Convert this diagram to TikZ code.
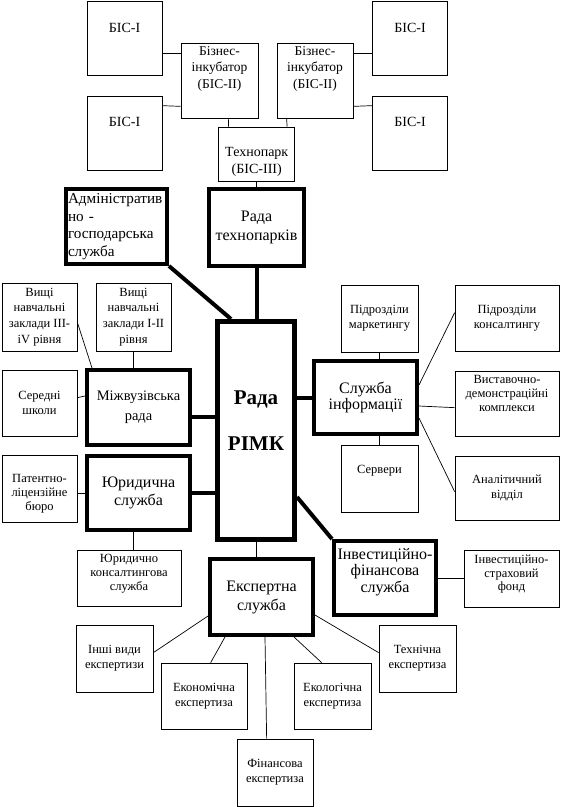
\documentclass[tikz,border=0pt]{standalone}
\usepackage{fontspec}
\setmainfont{Liberation Serif}
\usepackage{tikz}
\usetikzlibrary{calc}

\begin{document}
\begin{tikzpicture}[x=1pt, y=-1pt,
    thinbox/.style={draw, line width=0.7pt, inner sep=1pt, align=center,
      font=\fontsize{12.5}{15}\selectfont},
    thickbox/.style={draw, line width=4pt, inner sep=1pt, align=center,
      font=\fontsize{15.5}{18.5}\selectfont},
    dims/.style args={#1x#2}{minimum width=#1pt, minimum height=#2pt},
    lift/.style={text depth=#1pt},
    drop/.style={text height=#1pt},
    link/.style={line width=0.7pt},
    bond/.style={line width=4pt}]

  \useasboundingbox (0,0) rectangle (580,807);

  % Business incubation system
  \foreach \n/\x/\y in {bis1/124.5/38.5, bis2/124.5/133, bis3/410/38.5, bis4/410/133}
    \node[thinbox, dims=75x74, lift=22, font=\fontsize{14}{16}\selectfont] (\n) at (\x,\y) {БІС-І};
  \node[thinbox, dims=77x75, lift=26, font=\fontsize{13.5}{16.5}\selectfont] (inc1) at (219.5,80.5) {Бізнес-\\інкубатор\\(БІС-ІІ)};
  \node[thinbox, dims=76x75, lift=26, font=\fontsize{13.5}{16.5}\selectfont] (inc2) at (315,80.5) {Бізнес-\\інкубатор\\(БІС-ІІ)};
  \node[thinbox, dims=76x54, drop=42, font=\fontsize{14}{17}\selectfont] (tech) at (256.75,154) {Технопарк\\(БІС-ІІІ)};

  % Main bodies
  \node[thickbox, dims=95x77, font=\fontsize{16}{18.5}\selectfont] (radatech) at (256.5,227.5) {Рада\\технопарків};
  \node[thickbox, dims=101x75, align=left, text width=97pt, font=\fontsize{15.2}{17.7}\selectfont] (admin) at (116.5,226.5) {Адміністратив\\но -\\господарська\\служба};
  \node[thickbox, line width=5pt, dims=77x218, lift=20, font=\fontsize{21}{46}\selectfont\bfseries] (rimk) at (256,430.5) {Рада\\РІМК};
  \node[thickbox, dims=103x75, font=\fontsize{14.5}{20}\selectfont] (mizh) at (138.5,407.5) {Міжвузівська\\рада};
  \node[thickbox, dims=103x74, font=\fontsize{16}{18.5}\selectfont] (yur) at (138.5,493) {Юридична\\служба};
  \node[thickbox, dims=103x73, font=\fontsize{16}{16.5}\selectfont] (info) at (365.5,397.5) {Служба\\інформації};
  \node[thickbox, dims=103x76, font=\fontsize{16}{19}\selectfont] (eksp) at (261.5,597) {Експертна\\служба};
  \node[thickbox, dims=102x74, lift=15, font=\fontsize{16}{16.5}\selectfont] (invest) at (385,578) {Інвестиційно-\\фінансова\\служба};

  % Left side units
  \node[thinbox, dims=75x68, font=\fontsize{12.5}{15.7}\selectfont] (v1) at (39.5,317) {Вищі\\навчальні\\заклади ІІІ-\\iV рівня};
  \node[thinbox, dims=75x68, font=\fontsize{12.5}{15.7}\selectfont] (v2) at (133.5,317) {Вищі\\навчальні\\заклади І-ІІ\\рівня};
  \node[thinbox, dims=75x66] (shkoly) at (39.5,403) {Середні\\школи};
  \node[thinbox, dims=75x67, drop=46, font=\fontsize{12.5}{14}\selectfont] (patent) at (39.5,488.5) {Патентно-\\ліцензійне\\бюро};
  \node[thinbox, dims=104x56, lift=11, font=\fontsize{12.5}{14}\selectfont] (yurkons) at (129,578) {Юридично\\консалтингова\\служба};

  % Right side units
  \node[thinbox, dims=77x67] (market) at (379.5,318.5) {Підрозділи\\маркетингу};
  \node[thinbox, dims=77x67, lift=19] (serv) at (379.5,478.5) {Сервери};
  \node[thinbox, dims=104x66] (konsalt) at (507,318) {Підрозділи\\консалтингу};
  \node[thinbox, dims=104x65, lift=21, font=\fontsize{12.5}{14}\selectfont] (vystav) at (507,403.5) {Виставочно-\\демонстраційні\\комплекси};
  \node[thinbox, dims=104x64] (analit) at (507,488) {Аналітичний\\відділ};
  \node[thinbox, dims=95x57, lift=11, font=\fontsize{12.5}{13.5}\selectfont] (fond) at (511.5,578.5) {Інвестиційно-\\страховий\\фонд};

  % Expertise kinds
  \foreach \n/\x/\y/\w/\h/\t in {inshi/114.5/658.5/77/67/{Інші види\\експертизи},
      ekon/204/696/86/66/{Економічна\\експертиза}, fin/275/772.5/76/67/{Фінансова\\експертиза},
      ekol/332.5/696/77/66/{Екологічна\\експертиза}, tekh/417.5/658.5/77/67/{Технічна\\експертиза}}
    \node[thinbox, dims=\w x\h] (\n) at (\x,\y) {\t};

  % Thin links
  \draw[link] ($(inc1.north west)+(0,11)$) -- ($(bis1.north east)+(0,52.5)$);
  \draw[link] ($(inc1.south west)+(0,-12)$) -- ($(bis2.north east)+(0,10)$);
  \draw[link] ($(inc2.north east)+(0,11)$) -- ($(bis3.north west)+(0,52.5)$);
  \draw[link] ($(inc2.south east)+(0,-12)$) -- ($(bis4.north west)+(0,10)$);
  \draw[link] ($(inc1.south west)+(48,0)$) -- ($(tech.north west)+(10,0)$);
  \draw[link] ($(inc2.south west)+(10,0)$) -- ($(tech.north east)+(-8,0)$);
  \draw[link] (tech.south) -- (tech.south |- radatech.north);
  \draw[link] ($(v1.south east)+(0,-29)$) -- ($(mizh.north west)+(7,0)$);
  \draw[link] (v2.south) -- (v2.south |- mizh.north);
  \draw[link] ($(shkoly.north east)+(0,28)$) -- ($(mizh.north west)+(0,28)$);
  \draw[link] (yur.west) -- (patent.east |- yur.west);
  \draw[link] ($(yur.south)+(-5.5,0)$) -- ($(yurkons.north)+(4,0)$);
  \draw[link] (rimk.south) -- (rimk.south |- eksp.north);
  \draw[link] (invest.east) -- (fond.west |- invest.east);
  \draw[link] (market.south) -- (market.south |- info.north);
  \draw[link] (info.south -| serv.north) -- (serv.north);
  \draw[link] ($(info.north east)+(0,26)$) -- ($(konsalt.north west)+(0,28)$);
  \draw[link] ($(info.north east)+(0,47)$) -- ($(vystav.north west)+(0,37)$);
  \draw[link] ($(info.north east)+(0,59)$) -- ($(analit.north west)+(0,36)$);
  \draw[link] ($(eksp.north west)+(0,59)$) -- ($(inshi.north east)+(0,28)$);
  \draw[link] ($(eksp.south west)+(17,0)$) -- ($(ekon.north west)+(50,0)$);
  \draw[link] ($(eksp.south west)+(57,0)$) -- ($(fin.north west)+(30,0)$);
  \draw[link] ($(eksp.south west)+(86,0)$) -- ($(ekol.north west)+(28,0)$);
  \draw[link] ($(eksp.north east)+(0,58)$) -- ($(tekh.north west)+(0,28)$);

  % Thick bonds to the council
  \draw[bond] (radatech.south) -- (radatech.south |- rimk.north);
  \draw[bond] (admin.south east) -- ($(rimk.north west)+(16,0)$);
  \draw[bond] ($(mizh.east)+(0,9.5)$) -- ($(rimk.west |- mizh.east)+(0,9.5)$);
  \draw[bond] (yur.east) -- (rimk.west |- yur.east);
  \draw[bond] (info.west) -- (rimk.east |- info.west);
  \draw[bond] ($(rimk.south east)+(0,-45)$) -- (invest.north west);

\end{tikzpicture}
\end{document}
